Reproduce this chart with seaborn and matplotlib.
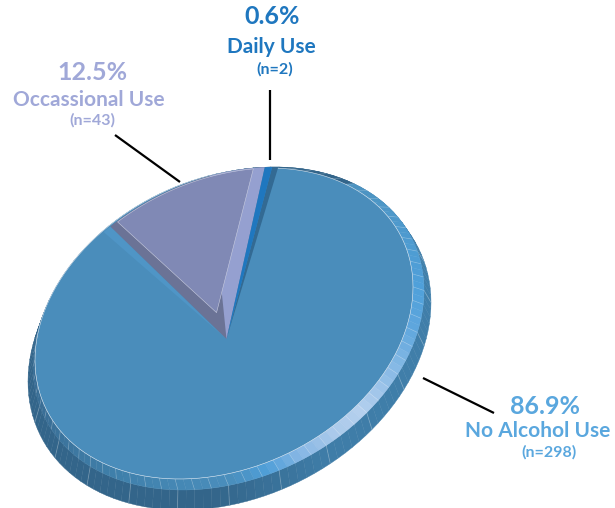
import numpy as np
import matplotlib
matplotlib.use("Agg")
import matplotlib.pyplot as plt
from matplotlib.colors import LinearSegmentedColormap
from matplotlib.patches import Polygon
import seaborn as sns

# ---- data ----
categories = ["No Alcohol Use", "Occassional Use", "Daily Use"]
counts = [298, 43, 2]
percent_labels = ["86.9%", "12.5%", "0.6%"]
n_labels = ["(n=298)", "(n=43)", "(n=2)"]

sns.set_theme(style="white")
plt.rcParams["font.family"] = ["Lato", "DejaVu Sans"]
palette = sns.color_palette(["#4a8dbb", "#8089b5", "#1f77bf"])
text_colors = ["#5aa7de", "#a0a8d8", "#1f77bf"]

fig, ax = plt.subplots(figsize=(6.15, 5.08), dpi=100)
ax.set_position([0, 0, 1, 1])
ax.set_xlim(0, 615)
ax.set_ylim(508, 0)
ax.axis("off")


# ---- projection of the tilted pie ----
def ell(cx, cy, sx, sy, sk=-0.2355):
    """Ellipse from extents and skew: returns centre and Cholesky factor."""
    sxy = sk * sx * sy
    return np.array([cx, cy]), np.linalg.cholesky(np.array([[sx**2, sxy], [sxy, sy**2]]))


C_R, L_R = ell(228.5, 328.5, 195.5, 161.5)
C_F, L_F = ell(224, 323.5, 189, 155.5)
C_W, L_W = ell(229.5, 342, 201.5, 168)
APEX = np.array([226.5, 339.0])
START_PT = np.array([272.0, 168.0])


def on(c, L, t):
    t = np.asarray(t)
    return np.column_stack([c[0] + L[0, 0] * np.cos(t),
                            c[1] + L[1, 0] * np.cos(t) + L[1, 1] * np.sin(t)])


qv = np.linalg.solve(L_R, APEX - C_R)
q = complex(qv[0], qv[1])
w = q / (1 + np.sqrt(1 - abs(q) ** 2))


def proj(r, th):
    p = r * np.exp(1j * np.asarray(th))
    wp = p / (1 + np.sqrt(np.clip(1 - np.abs(p) ** 2, 0, None)))
    m = (wp + w) / (1 + np.conj(w) * wp)
    k = 2 * m / (1 + np.abs(m) ** 2)
    return np.column_stack([C_R[0] + L_R[0, 0] * k.real,
                            C_R[1] + L_R[1, 0] * k.real + L_R[1, 1] * k.imag])


sv = np.linalg.solve(L_R, START_PT - C_R)
s = complex(sv[0], sv[1])
s /= abs(s)
theta0 = np.angle((s - w) / (1 - np.conj(w) * s))

fractions = np.array(counts) / np.sum(counts)
edges = theta0 + 2 * np.pi * np.concatenate([[0], np.cumsum(fractions)])

# ---- side wall and bevelled rim ----
rim_cmap = LinearSegmentedColormap.from_list("rim", [
    (0.00, "#4d93c0"), (0.17, "#4fa0da"), (0.22, "#5ea6dd"), (0.28, "#8dbce6"),
    (0.33, "#b5d0ee"), (0.37, "#a8c8ea"), (0.41, "#7fb3e3"), (0.44, "#4f9fd8"),
    (0.48, "#4a8ebc"), (0.60, "#3f80ab"), (0.72, "#3a6f97"), (1.00, "#33658a")])
wall_cmap = LinearSegmentedColormap.from_list("wall", [
    (0.0, "#4180ab"), (0.38, "#3f7da8"), (0.50, "#33658a"), (1.0, "#33658a")])


def sweep(t):
    """0 at the upper right of the pie, 1 at the upper left, clockwise."""
    a = (np.degrees(t) + 50) % 360
    return np.clip(a / 290, 0, 1)


N = 144
ts = np.linspace(0, 2 * np.pi, N + 1)
Wp, Rp, Fp = on(C_W, L_W, ts), on(C_R, L_R, ts), on(C_F, L_F, ts)
for i in range(N):
    mid = 0.5 * (ts[i] + ts[i + 1])
    ax.add_patch(Polygon([Wp[i], Wp[i + 1], Rp[i + 1], Rp[i]], closed=True, lw=0.3,
                         fc=wall_cmap(sweep(mid)), ec=wall_cmap(sweep(mid)), zorder=1))
    if i % 6 == 0 and sweep(mid) < 0.75:
        ax.plot([Wp[i, 0], Rp[i, 0]], [Wp[i, 1], Rp[i, 1]],
                color="white", alpha=0.25, lw=0.6, zorder=1.5)
for i in range(N):
    mid = 0.5 * (ts[i] + ts[i + 1])
    col = rim_cmap(sweep(mid))
    ax.add_patch(Polygon([Rp[i], Rp[i + 1], Fp[i + 1], Fp[i]], closed=True, lw=0.3,
                         fc=col, ec=col, zorder=2))
    if i % 2 == 0:
        ax.plot([Rp[i, 0], Fp[i, 0]], [Rp[i, 1], Fp[i, 1]],
                color="white", alpha=0.25, lw=0.5, zorder=2.5)

# ---- faces ----
ax.add_patch(Polygon(Fp, closed=True, fc=palette[0], ec="#dbe7f2", lw=0.4, zorder=3))


def wedge(a, b, apex_r=0.0):
    th = np.linspace(a, b, 30)
    pts = proj(np.ones_like(th), th)
    ap = proj(np.array([apex_r]), np.array([0.5 * (a + b)]))
    return np.vstack([ap, pts])


def inset_wedge(a, b, d1, d2, apex_scale=1.0):
    """Face of a slice pulled in from its two straight edges by d1 and d2."""
    u1 = np.exp(1j * (a + np.pi / 2)) * d1
    u2 = np.exp(1j * (b - np.pi / 2)) * d2
    A = np.array([[np.cos(a), -np.cos(b)], [np.sin(a), -np.sin(b)]])
    rhs = np.array([(u2 - u1).real, (u2 - u1).imag])
    sol = np.linalg.solve(A, rhs)
    ap = u1 + sol[0] * np.exp(1j * a)
    th = np.linspace(a + np.arcsin(d1), b - np.arcsin(d2), 30)
    pts = proj(np.full_like(th, 0.995), th)
    ap_xy = proj(np.array([abs(ap) * apex_scale]), np.array([np.angle(ap)]))
    return np.vstack([ap_xy, pts])


# bevels of the large slice, next to its two straight edges
a0, a1, a2, a3 = edges
ax.add_patch(Polygon(wedge(a0 - 1e-3, a0 + np.radians(1.7)), closed=True, fc="#336a93", ec="none", zorder=4))
ax.add_patch(Polygon(wedge(a1 - np.radians(2.4), a1), closed=True, fc="#4f95c6", ec="none", zorder=4))

# occasional use
ax.add_patch(Polygon(wedge(a1, a2), closed=True, fc="#6b7396", ec="none", zorder=5))
right_strip = wedge(a1 + np.radians(30), a2)
ax.add_patch(Polygon(right_strip, closed=True, fc="#95a0d0", ec="none", zorder=5.1))
ax.add_patch(Polygon(inset_wedge(a1, a2, 0.04, 0.055, apex_scale=1.5), closed=True, fc=palette[1],
                     ec="#c9cde0", lw=0.4, zorder=5.2))

# daily use
ax.add_patch(Polygon(wedge(a2, a3), closed=True, fc=palette[2], ec="none", zorder=6))

# ---- leader lines and labels ----
leaders = [((423, 378), (494, 413)), ((115, 135), (180, 182)), ((270, 90), (270, 160))]
for (x0, y0), (x1, y1) in leaders:
    ax.plot([x0, x1], [y0, y1], color="black", lw=1.6, zorder=7, solid_capstyle="butt")

label_pos = [((545, 406), (538, 431), (549, 452)),
             ((92, 73), (89, 100), (92, 120)),
             ((272, 17), (271, 47), (275, 69))]
for i, cat in enumerate(categories):
    p, c, n = label_pos[i]
    kw = dict(ha="center", va="center", color=text_colors[i], fontweight="bold", zorder=8)
    ax.text(*p, percent_labels[i], fontsize=18, **kw)
    ax.text(*c, cat, fontsize=15, **kw)
    ax.text(*n, n_labels[i], fontsize=11.5, **kw)

fig.savefig("out.png", dpi=100)
